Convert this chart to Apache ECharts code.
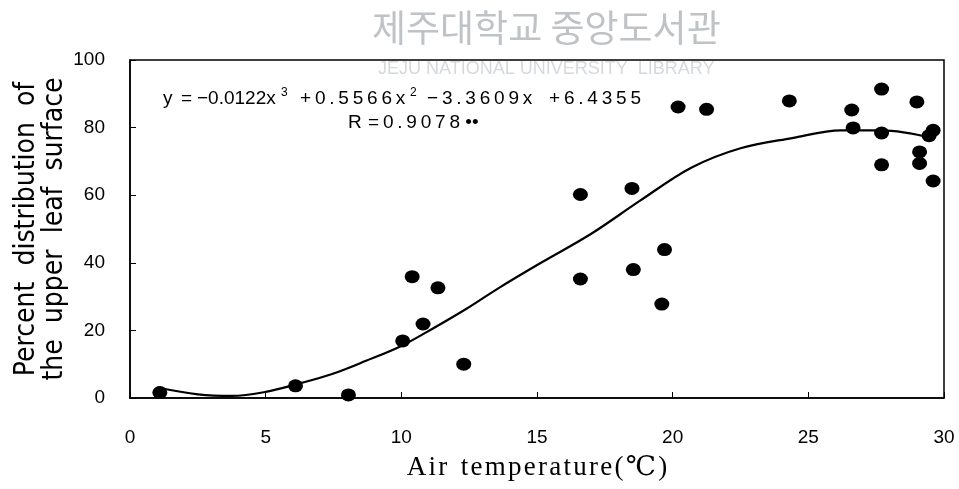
<!DOCTYPE html>
<html>
<head>
<meta charset="utf-8">
<script src="https://cdn.jsdelivr.net/npm/echarts@6/dist/echarts.min.js"></script>
<style>
  html, body { margin: 0; padding: 0; background: #fff; }
  #chart { width: 959px; height: 489px; }
</style>
</head>
<body>
<div id="chart"></div>
<script>
// observed points (air temperature, percent on upper leaf surface)
const tempX = [1.1, 6.1, 8.05, 10.05, 10.4, 10.8, 11.35, 12.3,
  16.6, 16.6, 18.5, 18.55, 19.7, 19.6, 20.2, 21.25, 24.3,
  26.6, 26.65, 27.7, 27.7, 27.7, 29.0, 29.1, 29.1, 29.45, 29.6, 29.6]
const pctY = [1.6, 3.6, 0.9, 16.9, 35.9, 21.9, 32.6, 10.0,
  60.2, 35.2, 62.0, 38.0, 43.9, 27.8, 86.1, 85.4, 87.9,
  85.2, 79.9, 91.4, 78.4, 69.0, 87.6, 72.8, 69.4, 77.6, 79.2, 64.2]

// fitted curve
const curveX = [1, 2.5, 3.75, 5, 6.2, 7.45, 8.7, 10, 11.15, 12.4, 13.6, 15.1,
  17, 18.8, 20.7, 22.5, 24.4, 26.2, 27.7, 29.6]
const curveY = [3.1, 1.1, 0.6, 1.8, 4.2, 7.1, 11, 15.4, 20.5, 26.4, 32.6, 39.8,
  48.6, 58.4, 68.2, 73.9, 76.9, 79.2, 79.2, 76.9]

const xTicks = [0, 5, 10, 15, 20, 25, 30]
const yTicks = [0, 20, 40, 60, 80, 100]

const narrow = 'Liberation Sans Narrow, DejaVu Sans Condensed, Arial, sans-serif'
const sans = 'Liberation Sans, Arial, sans-serif'

// the scan has wide letter spacing, fake it with thin spaces
const track = (s, sp) => s.split('').join(sp || '\u2009')

// regression equation, drawn piece by piece
const eqFont = { fontFamily: sans, fontSize: 19, fill: '#000' }
const supFont = { fontFamily: sans, fontSize: 12, fill: '#000' }
function eqText (str, x, y, st) {
  return { type: 'text', left: x, top: y, silent: true, style: Object.assign({ text: str }, st) }
}

const chart = echarts.init(document.getElementById('chart'))
chart.setOption({
  backgroundColor: '#fff',
  animation: false,
  grid: {
    left: 130,
    right: 15,
    top: 60,
    bottom: 91,
    outerBoundsMode: 'none',
    containLabel: false,
    show: true,
    borderColor: '#000',
    borderWidth: 1.5
  },
  xAxis: {
    type: 'value',
    min: xTicks[0],
    max: xTicks[xTicks.length - 1],
    interval: 5,
    name: track('Air', '\u200a') + '  ' + track('temperature(℃)', '\u200a'),
    nameLocation: 'middle',
    nameGap: 56,
    nameMoveOverlap: false,
    nameTextStyle: { fontFamily: 'Liberation Serif, DejaVu Serif, serif', fontSize: 27, color: '#000' },
    axisLine: { lineStyle: { color: '#000', width: 1.5 } },
    axisTick: { inside: true, length: 6, lineStyle: { color: '#000' } },
    axisLabel: { color: '#000', fontFamily: sans, fontSize: 19, margin: 30 },
    splitLine: { show: false }
  },
  yAxis: {
    type: 'value',
    min: yTicks[0],
    max: yTicks[yTicks.length - 1],
    interval: 20,
    name: 'Percent  distribution  of\nthe  upper  leaf  surface',
    nameLocation: 'middle',
    nameGap: 61,
    nameMoveOverlap: false,
    nameRotate: 90,
    nameTextStyle: { fontFamily: narrow, fontSize: 28, lineHeight: 28, color: '#000' },
    axisLine: { show: true, lineStyle: { color: '#000', width: 1.5 } },
    axisTick: { show: true, inside: true, length: 6, lineStyle: { color: '#000' } },
    axisLabel: { color: '#000', fontFamily: sans, fontSize: 19, margin: 25 },
    splitLine: { show: false }
  },
  graphic: [
    {
      type: 'text', left: 372, top: 9, silent: true,
      style: { text: '제주대학교 중앙도서관', fontFamily: 'Noto Sans CJK KR', fontSize: 37, fill: '#bfc3c6' }
    },
    {
      type: 'text', left: 378, top: 60, silent: true,
      style: { text: 'JEJU NATIONAL UNIVERSITY  LIBRARY', fontFamily: sans, fontSize: 18, fill: '#d6d9dc' }
    },
    eqText('y', 163, 89, eqFont),
    eqText('=', 181, 89, eqFont),
    eqText('−0.0122x', 197, 89, eqFont),
    eqText('3', 281, 87, supFont),
    eqText(track('+0.5566x'), 300, 89, eqFont),
    eqText('2', 410, 87, supFont),
    eqText(track('−3.3609x'), 427, 89, eqFont),
    eqText(track('+6.4355'), 549, 89, eqFont),
    eqText('R', 348, 113, eqFont),
    eqText(track('=0.9078') + ' ••', 368, 113, eqFont)
  ],
  series: [
    {
      type: 'line',
      data: curveX.map((x, i) => [x, curveY[i]]),
      smooth: 0.35,
      showSymbol: false,
      lineStyle: { color: '#000', width: 2.2 },
      z: 2
    },
    {
      type: 'scatter',
      data: tempX.map((x, i) => [x, pctY[i]]),
      symbol: 'circle',
      symbolSize: [15, 13],
      itemStyle: { color: '#000', opacity: 1 },
      z: 3
    }
  ]
})
</script>
</body>
</html>
